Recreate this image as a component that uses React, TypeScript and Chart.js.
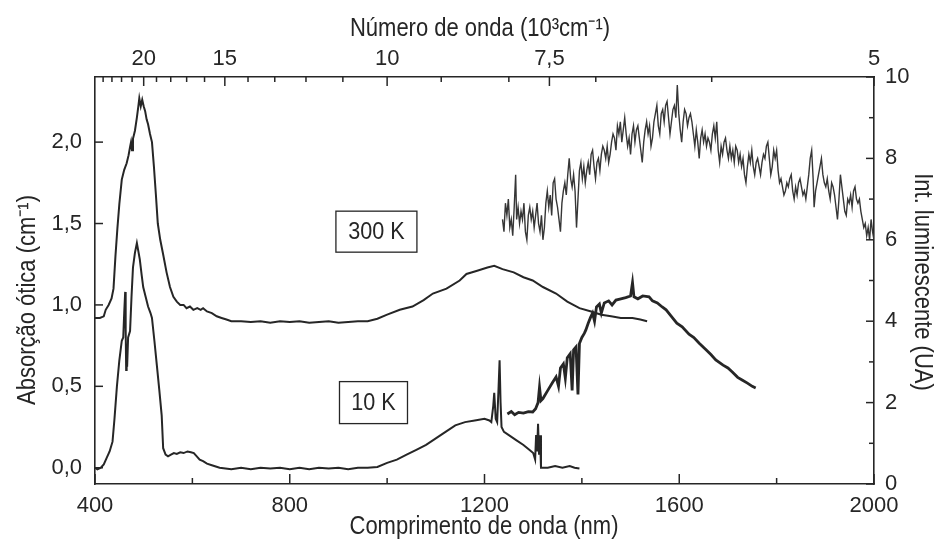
import React, { useEffect, useRef } from "react";
import { Chart, registerables } from "chart.js";

Chart.register(...registerables);

// ---------- data ----------
const wavelengthMajor = [400, 800, 1200, 1600, 2000];
const wavelengthMinor = [600, 1000, 1400, 1800];
const absorptionTicks = [0, 0.5, 1.0, 1.5, 2.0];
const luminescenceMajor = [0, 2, 4, 6, 8, 10];
const luminescenceMinor = [1, 3, 5, 7, 9];
const wavenumberMajor = [20, 15, 10, 7.5, 5]; // 10^3 cm^-1
const wavenumberMinor = [24, 23, 22, 21, 19, 18, 17, 16, 14, 13, 12, 11, 9, 8, 7, 6];

const abs300K: [number, number][] = [
  [400, 0.92], [410, 0.92], [418, 0.93], [422, 0.97], [428, 1.0], [434, 1.04], [438, 1.1], [442, 1.3],
  [446, 1.47], [450, 1.62], [455, 1.77], [460, 1.83], [465, 1.87], [469, 1.92], [472, 1.97], [474, 2.0],
  [476, 1.95], [478, 2.02], [482, 2.07], [486, 2.15], [489, 2.22], [491, 2.27], [494, 2.22], [497, 2.26],
  [500, 2.22], [503, 2.19], [506, 2.14], [509, 2.11], [513, 2.05], [517, 2.0], [521, 1.85], [525, 1.68],
  [529, 1.5], [534, 1.4], [540, 1.31], [547, 1.2], [554, 1.11], [561, 1.05], [568, 1.02], [575, 1.0],
  [582, 1.0], [588, 0.98], [595, 0.99], [602, 0.97], [610, 0.98], [617, 0.97], [622, 0.98], [630, 0.96],
  [640, 0.95], [650, 0.93], [660, 0.92], [670, 0.91], [680, 0.9], [700, 0.9], [720, 0.895], [740, 0.9],
  [760, 0.89], [780, 0.9], [800, 0.895], [820, 0.9], [840, 0.89], [860, 0.895], [880, 0.9], [900, 0.89],
  [920, 0.895], [940, 0.9], [960, 0.9], [980, 0.915], [1000, 0.94], [1026, 0.97], [1052, 0.99], [1075, 1.03],
  [1094, 1.07], [1122, 1.1], [1149, 1.15], [1163, 1.19], [1185, 1.21], [1206, 1.23], [1220, 1.24], [1237, 1.22],
  [1260, 1.2], [1280, 1.17], [1299, 1.15], [1320, 1.11], [1347, 1.07], [1370, 1.02], [1395, 0.98], [1419, 0.96],
  [1440, 0.94], [1460, 0.93], [1480, 0.92], [1504, 0.92], [1520, 0.91], [1534, 0.9],
];

const abs10K: [number, number][] = [
  [400, 0.0], [405, -0.01], [412, 0.0], [418, 0.02], [424, 0.06], [430, 0.1], [436, 0.16], [440, 0.3],
  [445, 0.5], [450, 0.66], [455, 0.78], [458, 0.8], [460, 0.95], [462, 1.08], [463, 0.85], [464, 0.6],
  [465, 0.75], [466, 0.62], [468, 0.8], [472, 0.84], [475, 1.05], [478, 1.23], [482, 1.32], [486, 1.38],
  [489, 1.33], [492, 1.28], [496, 1.18], [499, 1.11], [504, 1.05], [509, 0.99], [514, 0.95], [517, 0.92],
  [522, 0.78], [527, 0.63], [532, 0.48], [537, 0.32], [540, 0.12], [545, 0.08], [550, 0.07], [556, 0.08],
  [562, 0.09], [568, 0.085], [575, 0.095], [582, 0.09], [590, 0.1], [597, 0.095], [603, 0.09], [609, 0.07],
  [615, 0.05], [622, 0.04], [630, 0.025], [640, 0.015], [656, 0.0], [680, -0.01], [700, 0.0], [720, -0.01],
  [740, 0.0], [760, -0.005], [780, 0.0], [800, -0.01], [820, 0.0], [840, -0.01], [860, 0.0], [880, -0.005],
  [900, 0.0], [920, -0.01], [940, 0.0], [960, 0.0], [980, 0.005], [1000, 0.03], [1020, 0.05], [1040, 0.08],
  [1060, 0.11], [1080, 0.14], [1100, 0.18], [1120, 0.22], [1140, 0.26], [1160, 0.28], [1180, 0.29], [1200, 0.3],
  [1210, 0.29], [1214, 0.28], [1218, 0.38], [1220, 0.46], [1223, 0.3], [1226, 0.28], [1229, 0.5], [1231, 0.66],
  [1233, 0.4], [1235, 0.25], [1240, 0.22], [1250, 0.2], [1265, 0.17], [1280, 0.14], [1292, 0.11], [1300, 0.09],
  [1304, 0.05], [1306, 0.2], [1308, 0.1], [1310, 0.27], [1312, 0.08], [1314, 0.2], [1316, 0.0], [1330, 0.0],
  [1345, 0.01], [1360, 0.0], [1375, 0.01], [1385, 0.0], [1395, -0.005],
];

const lum10K: [number, number][] = [
  [1247, 1.72], [1255, 1.78], [1262, 1.7], [1270, 1.76], [1280, 1.74], [1290, 1.78], [1299, 1.77], [1305, 1.85],
  [1310, 2.0], [1313, 2.38], [1316, 2.05], [1320, 2.1], [1330, 2.3], [1340, 2.5], [1347, 2.63], [1352, 2.4],
  [1356, 2.85], [1362, 2.95], [1366, 2.6], [1370, 3.1], [1376, 3.2], [1380, 2.3], [1383, 3.3], [1388, 3.37],
  [1392, 2.2], [1395, 3.45], [1400, 3.6], [1405, 3.7], [1408, 3.78], [1413, 3.95], [1418, 4.1], [1422, 4.2],
  [1426, 4.0], [1430, 4.35], [1436, 4.42], [1440, 4.2], [1446, 4.45], [1455, 4.5], [1462, 4.4], [1470, 4.52],
  [1480, 4.55], [1490, 4.58], [1500, 4.62], [1504, 4.95], [1507, 4.6], [1515, 4.55], [1525, 4.62], [1538, 4.6],
  [1545, 4.5], [1555, 4.45], [1565, 4.35], [1573, 4.28], [1585, 4.1], [1595, 3.95], [1606, 3.86], [1620, 3.68],
  [1630, 3.6], [1641, 3.46], [1655, 3.3], [1665, 3.18], [1675, 3.05], [1690, 2.92], [1700, 2.85], [1709, 2.75],
  [1720, 2.62], [1730, 2.55], [1740, 2.48], [1750, 2.4], [1757, 2.36],
];

const lum300K: [number, number][] = [
  [1237, 6.5], [1240, 6.2], [1243, 6.9], [1246, 6.6], [1249, 7.0], [1252, 6.3], [1255, 6.5], [1258, 6.1],
  [1261, 6.8], [1264, 7.6], [1266, 6.5], [1269, 6.8], [1272, 6.4], [1275, 6.7], [1278, 6.5], [1281, 6.9],
  [1284, 6.2], [1287, 6.0], [1290, 6.6], [1293, 6.8], [1296, 6.5], [1299, 6.7], [1302, 6.3], [1305, 6.6],
  [1308, 6.9], [1311, 6.4], [1314, 6.2], [1317, 6.6], [1320, 6.0], [1323, 6.3], [1326, 6.9], [1329, 7.2],
  [1332, 6.8], [1335, 7.1], [1338, 6.6], [1341, 7.4], [1344, 7.5], [1347, 7.0], [1350, 6.8], [1353, 6.5],
  [1356, 6.2], [1359, 6.9], [1362, 7.2], [1365, 7.4], [1368, 7.1], [1371, 7.6], [1374, 8.0], [1377, 7.5],
  [1380, 7.3], [1383, 7.6], [1386, 7.2], [1389, 6.3], [1392, 7.0], [1395, 7.7], [1398, 7.9], [1401, 7.5],
  [1404, 7.8], [1407, 7.4], [1410, 7.7], [1413, 7.9], [1416, 7.6], [1419, 8.1], [1422, 8.2], [1425, 7.8],
  [1428, 7.5], [1431, 7.9], [1434, 8.0], [1437, 7.7], [1440, 8.1], [1443, 8.3], [1446, 8.2], [1449, 8.0],
  [1452, 8.3], [1455, 7.9], [1458, 8.1], [1461, 8.4], [1464, 8.6], [1467, 8.5], [1470, 8.2], [1473, 8.8],
  [1476, 8.6], [1479, 8.9], [1482, 8.4], [1485, 8.7], [1488, 9.0], [1491, 8.6], [1494, 8.3], [1497, 8.5],
  [1500, 8.1], [1503, 8.6], [1506, 8.8], [1509, 8.4], [1512, 8.7], [1515, 8.8], [1518, 8.5], [1521, 8.2],
  [1524, 7.9], [1527, 8.4], [1530, 8.7], [1533, 8.9], [1536, 8.6], [1539, 8.8], [1542, 8.3], [1545, 8.5],
  [1548, 8.9], [1551, 9.1], [1554, 9.3], [1557, 8.8], [1560, 8.6], [1563, 9.1], [1566, 9.2], [1569, 8.9],
  [1572, 9.3], [1575, 9.4], [1578, 9.0], [1581, 8.6], [1584, 8.9], [1587, 9.2], [1590, 9.3], [1593, 9.0],
  [1596, 9.8], [1599, 9.1], [1602, 8.7], [1605, 8.4], [1608, 8.9], [1611, 9.2], [1614, 9.1], [1617, 8.8],
  [1620, 9.0], [1623, 9.1], [1626, 8.9], [1629, 8.6], [1632, 8.3], [1635, 8.7], [1638, 8.4], [1641, 8.0],
  [1644, 8.5], [1647, 8.7], [1650, 8.4], [1653, 8.6], [1656, 8.3], [1659, 8.5], [1662, 8.4], [1665, 8.2],
  [1668, 8.6], [1671, 8.8], [1674, 8.5], [1677, 8.9], [1680, 8.2], [1683, 7.9], [1686, 8.3], [1689, 8.1],
  [1692, 8.4], [1695, 8.5], [1698, 8.2], [1701, 8.0], [1704, 8.3], [1707, 8.0], [1710, 8.2], [1713, 7.9],
  [1716, 8.3], [1719, 8.2], [1722, 7.9], [1725, 8.1], [1728, 7.8], [1731, 8.0], [1734, 7.6], [1737, 7.4],
  [1740, 7.8], [1743, 8.1], [1746, 7.9], [1749, 8.2], [1752, 7.8], [1755, 7.6], [1758, 7.9], [1761, 8.0],
  [1764, 7.8], [1767, 7.6], [1770, 7.9], [1773, 8.1], [1776, 8.0], [1779, 8.3], [1782, 8.4], [1785, 8.0],
  [1788, 7.6], [1791, 7.8], [1794, 8.2], [1797, 8.0], [1800, 8.2], [1803, 7.7], [1806, 7.4], [1809, 7.5],
  [1812, 7.3], [1815, 7.1], [1818, 7.2], [1821, 7.4], [1824, 7.3], [1827, 7.5], [1830, 7.6], [1833, 7.2],
  [1836, 7.0], [1839, 7.3], [1842, 7.1], [1845, 7.4], [1848, 7.5], [1851, 7.3], [1854, 7.1], [1857, 7.2],
  [1860, 7.0], [1863, 7.3], [1866, 7.6], [1869, 8.0], [1872, 8.2], [1875, 7.5], [1877, 6.8], [1880, 7.2],
  [1883, 7.4], [1886, 7.6], [1889, 7.8], [1892, 8.0], [1895, 7.6], [1898, 7.4], [1901, 7.3], [1904, 7.5],
  [1907, 7.2], [1910, 7.0], [1913, 7.4], [1916, 7.3], [1919, 7.1], [1922, 6.8], [1925, 6.5], [1928, 7.0],
  [1931, 7.6], [1934, 7.3], [1937, 7.0], [1940, 6.7], [1943, 6.6], [1946, 7.0], [1949, 6.9], [1952, 7.1],
  [1955, 6.8], [1958, 7.2], [1961, 7.3], [1964, 7.0], [1967, 6.9], [1970, 7.0], [1973, 6.7], [1976, 6.5],
  [1979, 6.3], [1982, 6.4], [1985, 6.1], [1988, 6.3], [1991, 6.0], [1994, 6.5], [1997, 6.2], [2000, 6.0],
];

// labels
const titleBottom = "Comprimento de onda (nm)";
const titleTop = "Número de onda (10³cm⁻¹)";
const titleLeft = "Absorção ótica (cm⁻¹)";
const titleRight = "Int. luminescente (UA)";
const label300K = { text: "300 K", nm: 978, abs: 1.45 };
const label10K = { text: "10 K", nm: 972, abs: 0.4 };

const FONT = "'Liberation Sans', Arial, sans-serif";
const INK = "#262626";

const fmtComma = (v: number, d: number) => v.toFixed(d).replace(".", ",");
const fmtWavenumber = (k: number) => {
  const r = Math.round(k * 10) / 10;
  return Number.isInteger(r) ? String(r) : fmtComma(r, 1);
};

// draws condensed text (narrowed horizontally) centred at cx, cy, rotated by rot
const drawCondensed = (ctx: any, text: string, cx: number, cy: number, rot: number, sx: number) => {
  ctx.save();
  ctx.translate(cx, cy);
  ctx.rotate(rot);
  ctx.scale(sx, 1);
  ctx.fillText(text, 0, 0);
  ctx.restore();
};

const decorPlugin = {
  id: "decor",
  afterDraw(chart: any) {
    const { ctx, chartArea: a } = chart;
    const { x, xTop, y, y2 } = chart.scales;
    ctx.save();
    ctx.strokeStyle = INK;
    ctx.lineWidth = 1.5;
    const seg = (x1: number, y1: number, x2: number, y2v: number) => {
      ctx.beginPath();
      ctx.moveTo(x1, y1);
      ctx.lineTo(x2, y2v);
      ctx.stroke();
    };
    wavelengthMajor.forEach((v) => { const p = x.getPixelForValue(v); seg(p, a.bottom, p, a.bottom - 10); });
    wavelengthMinor.forEach((v) => { const p = x.getPixelForValue(v); seg(p, a.bottom, p, a.bottom - 6); });
    wavenumberMajor.forEach((k) => { const p = xTop.getPixelForValue(1e4 / k); seg(p, a.top, p, a.top + 9); });
    wavenumberMinor.forEach((k) => { const p = xTop.getPixelForValue(1e4 / k); seg(p, a.top, p, a.top + 5); });
    absorptionTicks.forEach((v) => { const p = y.getPixelForValue(v); seg(a.left, p, a.left + 8, p); });
    luminescenceMajor.forEach((v) => { const p = y2.getPixelForValue(v); seg(a.right, p, a.right - 8, p); });
    luminescenceMinor.forEach((v) => { const p = y2.getPixelForValue(v); seg(a.right, p, a.right - 5, p); });

    // boxed labels
    ctx.fillStyle = INK;
    ctx.font = `24px ${FONT}`;
    ctx.textAlign = "center";
    ctx.textBaseline = "middle";
    [
      { ...label300K, w: 81, h: 41 },
      { ...label10K, w: 68, h: 42 },
    ].forEach((l) => {
      const cx = x.getPixelForValue(l.nm);
      const cy = y.getPixelForValue(l.abs);
      ctx.lineWidth = 1.3;
      ctx.strokeRect(cx - l.w / 2, cy - l.h / 2, l.w, l.h);
      drawCondensed(ctx, l.text, cx, cy + 1, 0, 0.9);
    });

    // axis titles
    ctx.font = `25px ${FONT}`;
    drawCondensed(ctx, titleBottom, 484, 527, 0, 0.88);
    drawCondensed(ctx, titleTop, 480, 29, 0, 0.88);
    drawCondensed(ctx, titleLeft, 28, 300, -Math.PI / 2, 0.88);
    drawCondensed(ctx, titleRight, 922, 282, Math.PI / 2, 0.88);
    ctx.restore();
  },
};

const tickFont = { family: FONT, size: 22 };

export default function App() {
  const ref = useRef<HTMLCanvasElement>(null);
  useEffect(() => {
    if (!ref.current) return;
    const toPts = (arr: [number, number][]) => arr.map(([a, b]) => ({ x: a, y: b }));
    const chart = new Chart(ref.current, {
      type: "line",
      data: {
        datasets: [
          { label: "abs300", data: toPts(abs300K), yAxisID: "y", borderColor: INK, borderWidth: 2, pointRadius: 0, tension: 0 },
          { label: "abs10", data: toPts(abs10K), yAxisID: "y", borderColor: INK, borderWidth: 2, pointRadius: 0, tension: 0 },
          { label: "lum10", data: toPts(lum10K), yAxisID: "y2", borderColor: INK, borderWidth: 2.8, pointRadius: 0, tension: 0 },
          { label: "lum300", data: toPts(lum300K), yAxisID: "y2", borderColor: "#363636", borderWidth: 1.4, pointRadius: 0, tension: 0 },
        ],
      },
      options: {
        responsive: false,
        animation: false,
        devicePixelRatio: 1,
        parsing: false as any,
        layout: { padding: 0 },
        plugins: { legend: { display: false }, tooltip: { enabled: false }, title: { display: false } },
        scales: {
          x: {
            type: "linear", position: "bottom", min: 400, max: 2000,
            grid: { display: false, drawTicks: false },
            border: { display: true, color: INK, width: 1.6 },
            afterBuildTicks: (s: any) => { s.ticks = wavelengthMajor.map((v) => ({ value: v })); },
            afterFit: (s: any) => { s.height = 57; },
            ticks: { autoSkip: false, maxRotation: 0, padding: 9, color: INK, font: tickFont, callback: (v: any) => String(v) },
          },
          xTop: {
            type: "linear", position: "top", min: 400, max: 2000,
            grid: { display: false, drawTicks: false },
            border: { display: true, color: INK, width: 1.6 },
            afterBuildTicks: (s: any) => { s.ticks = wavenumberMajor.map((k) => ({ value: 1e4 / k })); },
            afterFit: (s: any) => { s.height = 77; },
            ticks: { autoSkip: false, maxRotation: 0, padding: 5, color: INK, font: tickFont, callback: (v: any) => fmtWavenumber(1e4 / v) },
          },
          y: {
            type: "linear", position: "left", min: -0.1, max: 2.4,
            grid: { display: false, drawTicks: false },
            border: { display: true, color: INK, width: 1.6 },
            afterBuildTicks: (s: any) => { s.ticks = absorptionTicks.map((v) => ({ value: v })); },
            afterFit: (s: any) => { s.width = 95; },
            ticks: { autoSkip: false, padding: 13, color: INK, font: tickFont, callback: (v: any) => fmtComma(v, 1) },
          },
          y2: {
            type: "linear", position: "right", min: 0, max: 10,
            grid: { display: false, drawTicks: false },
            border: { display: true, color: INK, width: 1.6 },
            afterBuildTicks: (s: any) => { s.ticks = luminescenceMajor.map((v) => ({ value: v })); },
            afterFit: (s: any) => { s.width = 62; },
            ticks: { autoSkip: false, padding: 11, color: INK, font: tickFont, callback: (v: any) => String(v) },
          },
        },
      } as any,
      plugins: [decorPlugin],
    });
    return () => chart.destroy();
  }, []);
  return (
    <div style={{ position: "fixed", left: 0, top: 0, width: 936, height: 541, background: "#fff" }}>
      <canvas ref={ref} width={936} height={541} style={{ display: "block" }} />
    </div>
  );
}
